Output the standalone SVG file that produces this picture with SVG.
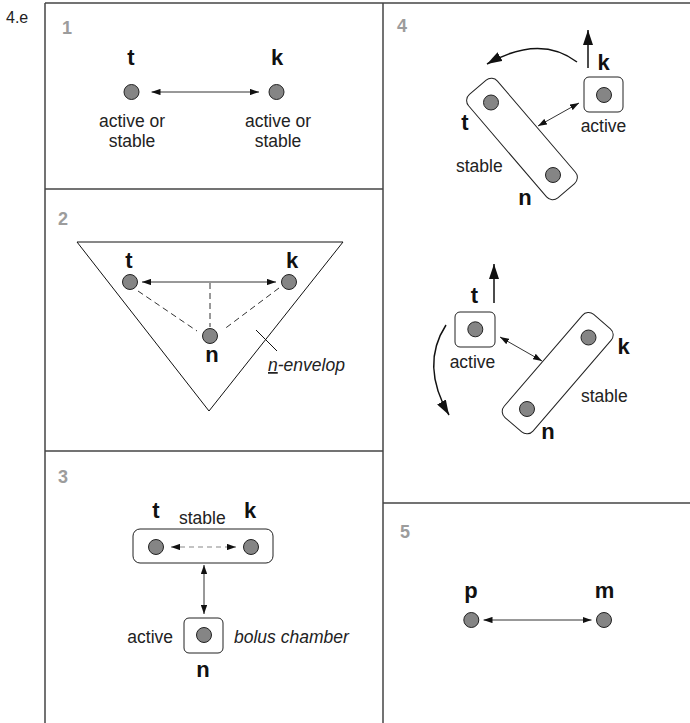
<svg xmlns="http://www.w3.org/2000/svg" width="690" height="723" viewBox="0 0 690 723">
<style>
.frame{stroke:#444;stroke-width:1.5;fill:none}
.dot{fill:#858585;stroke:#222;stroke-width:1}
.lbl{font-family:"Liberation Sans",Arial,sans-serif;font-weight:bold;font-size:22px;fill:#111;text-anchor:middle}
.txt{font-family:"Liberation Sans",Arial,sans-serif;font-size:17.5px;fill:#222}
.it{font-style:italic}
.num{font-family:"Liberation Sans",Arial,sans-serif;font-weight:bold;font-size:18px;fill:#9c9c9c}
.box{fill:#fff;stroke:#222;stroke-width:1}
.arr{stroke:#333;stroke-width:1;fill:none;marker-start:url(#ah);marker-end:url(#ah)}
.big{stroke:#111;stroke-width:1.5;fill:none;marker-end:url(#bh)}
.dash{stroke:#333;stroke-width:1;stroke-dasharray:6 4;fill:none}
</style>
<defs>
<marker id="ah" viewBox="0 0 10 7" refX="10" refY="3.5" markerWidth="9" markerHeight="6.5" markerUnits="userSpaceOnUse" orient="auto-start-reverse"><path d="M0,0 L10,3.5 L0,7 z" fill="#111"/></marker>
<marker id="bh" viewBox="0 0 15 10" refX="15" refY="5" markerWidth="15" markerHeight="10" markerUnits="userSpaceOnUse" orient="auto"><path d="M0,0 L15,5 L0,10 z" fill="#111"/></marker>
</defs>
<rect width="690" height="723" fill="#fff"/>
<g id="frame">
<line class="frame" x1="45" y1="3" x2="45" y2="723"/>
<line class="frame" x1="45" y1="3" x2="690" y2="3"/>
<line class="frame" x1="383" y1="3" x2="383" y2="723"/>
<line class="frame" x1="45" y1="189" x2="383" y2="189"/>
<line class="frame" x1="45" y1="451" x2="383" y2="451"/>
<line class="frame" x1="383" y1="503" x2="690" y2="503"/>
</g>
<text x="6" y="23" style="font-family:'Liberation Sans',Arial,sans-serif;font-size:16px;fill:#222">4.e</text>
<g id="panel-numbers">
<text class="num" x="62" y="34">1</text>
<text class="num" x="58" y="225">2</text>
<text class="num" x="58" y="483">3</text>
<text class="num" x="397" y="32">4</text>
<text class="num" x="400" y="538">5</text>
</g>

<!-- panel 1 -->
<g id="p1-t">
<text class="lbl" x="131" y="65">t</text>
<circle class="dot" cx="131.5" cy="92" r="7.5"/>
<text class="txt" x="132" y="127" text-anchor="middle">active or</text>
<text class="txt" x="132" y="147" text-anchor="middle">stable</text>
</g>
<g id="p1-k">
<text class="lbl" x="277" y="65">k</text>
<circle class="dot" cx="276.5" cy="92" r="7.5"/>
<text class="txt" x="278" y="127" text-anchor="middle">active or</text>
<text class="txt" x="278" y="147" text-anchor="middle">stable</text>
</g>

<!-- panel 2 -->
<g id="p2-envelop">
<polygon points="77,242 343,242 209,411" fill="none" stroke="#111" stroke-width="1"/>
<line x1="256" y1="330" x2="277" y2="351" stroke="#111" stroke-width="1"/>
<text class="txt it" x="268" y="371"><tspan text-decoration="underline">n</tspan>-envelop</text>
</g>
<g id="p2-t">
<text class="lbl" x="129" y="268">t</text>
<circle class="dot" cx="130" cy="282" r="7.5"/>
</g>
<g id="p2-k">
<text class="lbl" x="292" y="268">k</text>
<circle class="dot" cx="289" cy="282" r="7.5"/>
</g>
<g id="p2-n">
<circle class="dot" cx="210" cy="336" r="7.5"/>
<text class="lbl" x="212" y="362">n</text>
</g>

<!-- panel 3 -->
<g id="p3-tk">
<rect class="box" x="133" y="529" width="140" height="34" rx="7"/>
<text class="lbl" x="156" y="518">t</text>
<text class="txt" x="179" y="524">stable</text>
<text class="lbl" x="250" y="518">k</text>
<circle class="dot" cx="156" cy="547" r="7.5"/>
<circle class="dot" cx="251" cy="547" r="7.5"/>
</g>
<g id="p3-n">
<rect class="box" x="184" y="618" width="39" height="35" rx="5"/>
<circle class="dot" cx="204" cy="635" r="7.5"/>
<text class="txt" x="173" y="643" text-anchor="end">active</text>
<text class="txt it" x="234" y="643">bolus chamber</text>
<text class="lbl" x="203" y="677">n</text>
</g>

<!-- panel 4 top -->
<g id="p4a-tn">
<rect class="box" x="-68" y="-19" width="136" height="38" rx="8" transform="translate(522,139) rotate(49.46)"/>
<circle class="dot" cx="491" cy="102.5" r="7.5"/>
<circle class="dot" cx="553" cy="175" r="7.5"/>
<text class="lbl" x="465" y="130">t</text>
<text class="txt" x="456" y="171.5">stable</text>
<text class="lbl" x="525" y="205">n</text>
</g>
<g id="p4a-k">
<rect class="box" x="584" y="77" width="39" height="35" rx="5"/>
<circle class="dot" cx="604" cy="95" r="7.5"/>
<text class="lbl" x="603.5" y="70">k</text>
<text class="txt" x="603.5" y="132" text-anchor="middle">active</text>
</g>

<!-- panel 4 bottom -->
<g id="p4b-kn">
<rect class="box" x="-68" y="-19" width="136" height="38" rx="8" transform="translate(557.7,373.2) rotate(-49.3)"/>
<circle class="dot" cx="588.5" cy="337.5" r="7.5"/>
<circle class="dot" cx="527" cy="409" r="7.5"/>
<text class="lbl" x="623.5" y="354">k</text>
<text class="txt" x="581" y="402">stable</text>
<text class="lbl" x="548" y="439">n</text>
</g>
<g id="p4b-t">
<rect class="box" x="455" y="312" width="40" height="35" rx="5"/>
<circle class="dot" cx="475.3" cy="329.3" r="7.5"/>
<text class="lbl" x="474.5" y="303">t</text>
<text class="txt" x="472.5" y="368" text-anchor="middle">active</text>
</g>

<!-- panel 5 -->
<g id="p5-p">
<text class="lbl" x="471" y="598">p</text>
<circle class="dot" cx="471.3" cy="620" r="7.5"/>
</g>
<g id="p5-m">
<text class="lbl" x="604.5" y="598">m</text>
<circle class="dot" cx="604" cy="620" r="7.5"/>
</g>

<g id="connectors">
<line class="arr" x1="151.5" y1="92" x2="259" y2="92"/>
<line class="arr" x1="142" y1="282" x2="276" y2="282"/>
<line class="dash" x1="138" y1="291" x2="197" y2="331"/>
<line class="dash" x1="210" y1="283" x2="210" y2="327"/>
<line class="dash" x1="279" y1="288" x2="223" y2="330"/>
<line x1="171" y1="547" x2="236" y2="547" stroke="#888" stroke-width="1.2" stroke-dasharray="5 4" marker-start="url(#ah)" marker-end="url(#ah)"/>
<line class="arr" x1="204" y1="565" x2="204" y2="614"/>
<line class="arr" x1="538" y1="126" x2="579" y2="103"/>
<line class="big" x1="588" y1="68" x2="588" y2="30"/>
<path class="big" d="M577,62 Q540,34 487,64"/>
<line class="arr" x1="500" y1="337" x2="542" y2="361"/>
<line class="big" x1="494" y1="303" x2="494" y2="264"/>
<path class="big" d="M446,325 Q420,365 449,415"/>
<line class="arr" x1="483.5" y1="620" x2="591.5" y2="620"/>
</g>
</svg>
